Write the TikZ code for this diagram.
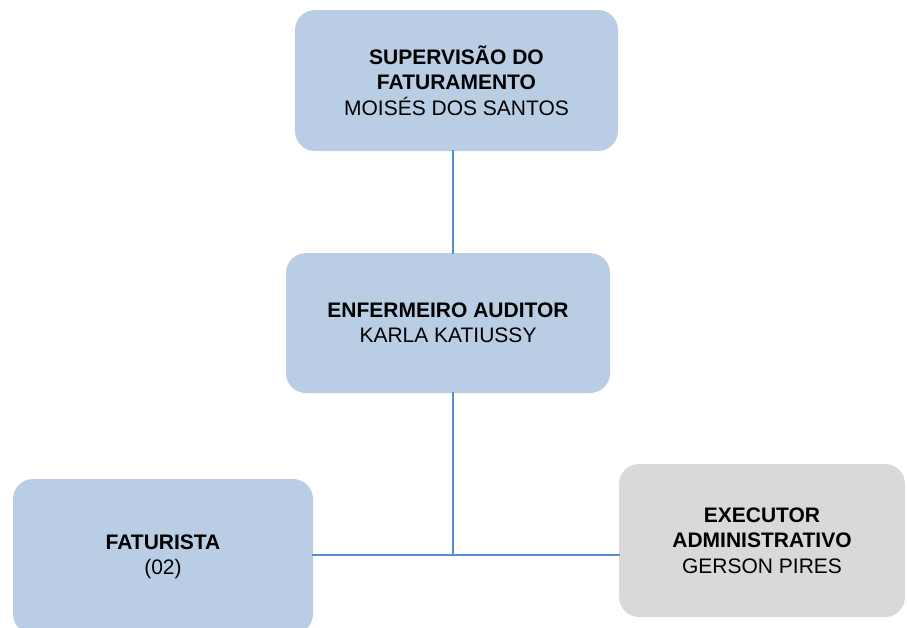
\documentclass[tikz,border=0pt]{standalone}
\usepackage{fontspec}
\setmainfont{Liberation Sans}
\definecolor{boxblue}{HTML}{B9CDE5}
\definecolor{boxgray}{HTML}{D9D9D9}
\definecolor{linkblue}{HTML}{548DD4}
\tikzset{
  unit/.style={rounded corners=20pt,inner sep=0pt,align=center,
    font=\fontsize{21}{25.3}\selectfont},
  unitblue/.style={unit,fill=boxblue},
  unitgray/.style={unit,fill=boxgray},
  link/.style={draw=linkblue,line width=1.6pt}
}
\begin{document}
\begin{tikzpicture}[x=1pt,y=-1pt,line cap=rect,line join=round]
    \clip (0,0) rectangle (907,627);
    % boxes
    \node[unitblue,minimum width=323pt,minimum height=141pt] (sup) at (456.5,80.5)
      {\textbf{SUPERVISÃO DO}\\\textbf{FATURAMENTO}\\MOISÉS DOS SANTOS};
    \node[unitblue,minimum width=324pt,minimum height=140pt] (aud) at (448,323)
      {\textbf{ENFERMEIRO AUDITOR}\\KARLA KATIUSSY};
    \node[unitblue,minimum width=300pt,minimum height=155pt] (fat) at (163,556.5)
      {\textbf{FATURISTA}\\(02)};
    \node[unitgray,minimum width=286pt,minimum height=153pt] (exe) at (762,540.5)
      {\textbf{EXECUTOR}\\\textbf{ADMINISTRATIVO}\\GERSON PIRES};
    % links
    \coordinate (hub) at (453,554.7);
    \draw[link] (hub |- sup.south) -- (hub |- aud.north);
    \draw[link] (hub |- aud.south) -- (hub);
    \draw[link] (fat.east |- hub) -- (exe.west |- hub);
\end{tikzpicture}
\end{document}
